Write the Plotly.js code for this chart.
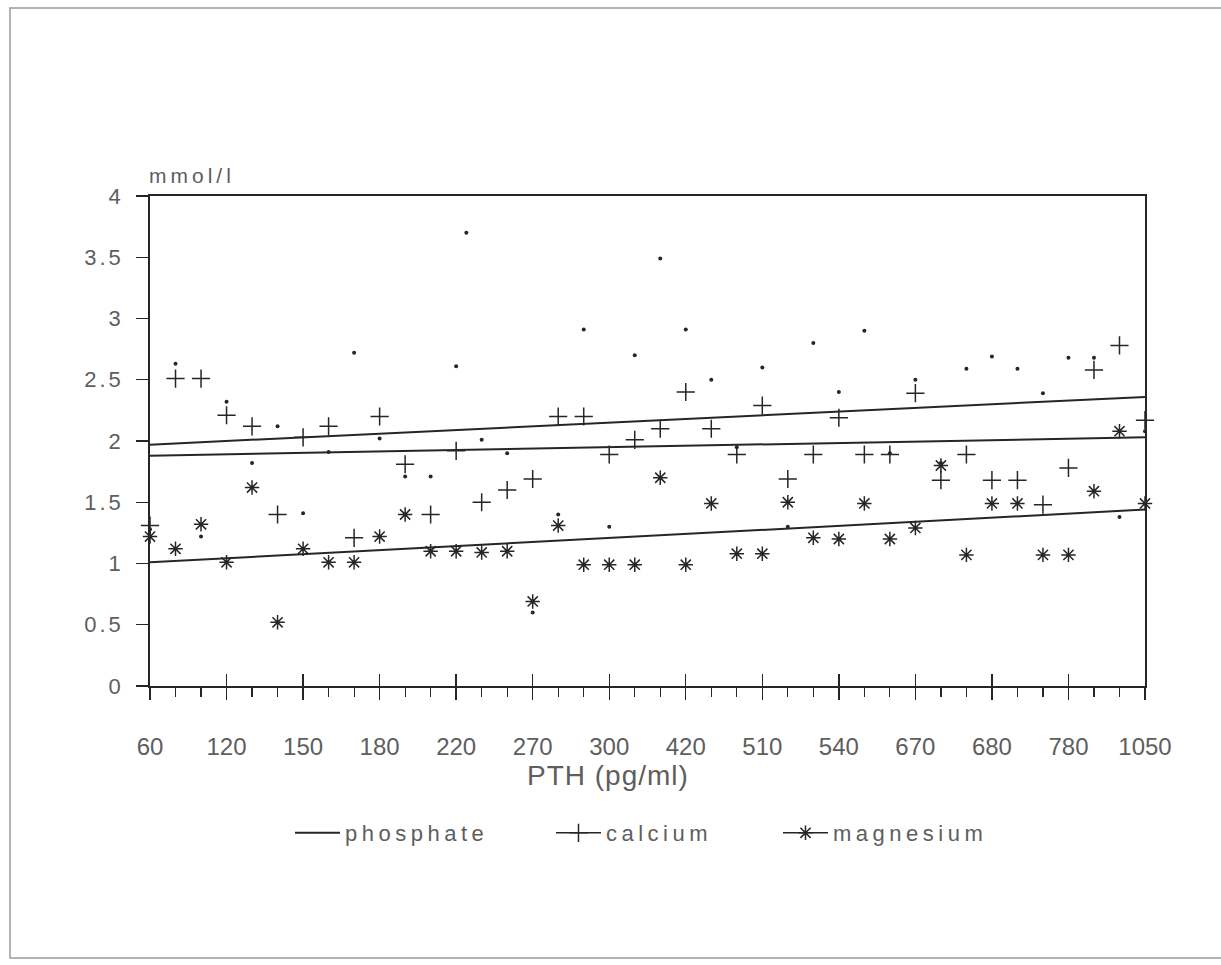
<!DOCTYPE html>
<html><head><meta charset="utf-8">
<script src="https://cdn.plot.ly/plotly-3.0.1.min.js"></script>
<style>
html,body{margin:0;padding:0;background:#fff}
#chart{width:1221px;height:965px}
.ytick text{letter-spacing:3px}
.legendtext{letter-spacing:4.5px}
</style></head><body><div id="chart"></div>
<script>
// PTH tick labels (every third patient position)
const pthLabels = ['60','120','150','180','220','270','300','420','510','540','670','680','780','1050'];
// serum values, mmol/l, one per patient (ordered by PTH)
const phosphate = [1.28,2.63,1.22,2.32,1.82,2.12,1.41,1.91,2.72,2.02,
                   1.71,1.71,2.61,2.01,1.90,0.60,1.40,2.91,1.30,2.70,
                   3.49,2.91,2.50,1.95,2.60,1.30,2.80,2.40,2.90,1.90,
                   2.50,1.82,2.59,2.69,2.59,2.39,2.68,2.68,1.38,2.08];
const phosphateExtraPos = [12.4];
const phosphateExtra = [3.70];
const calcium = [1.31,2.51,2.51,2.21,2.12,1.40,2.03,2.12,1.21,2.20,
                 1.81,1.40,1.92,1.50,1.60,1.69,2.20,2.20,1.89,2.01,
                 2.10,2.40,2.10,1.89,2.29,1.69,1.89,2.19,1.89,1.89,
                 2.39,1.68,1.89,1.68,1.68,1.48,1.78,2.58,2.78,2.17];
const magnesium = [1.22,1.12,1.32,1.01,1.62,0.52,1.12,1.01,1.01,1.22,
                   1.40,1.10,1.10,1.09,1.10,0.69,1.31,0.99,0.99,0.99,
                   1.70,0.99,1.49,1.08,1.08,1.50,1.21,1.20,1.49,1.20,
                   1.29,1.80,1.07,1.49,1.49,1.07,1.07,1.59,2.08,1.49];
// regression lines: value at first and last patient
const phosphateTrend = [1.97, 2.36];
const calciumTrend = [1.88, 2.03];
const magnesiumTrend = [1.01, 1.44];

const patient = calcium.map((_, i) => i);
const ends = [0, calcium.length - 1];
const labelPos = pthLabels.map((_, i) => i * 3);

const ink = '#262626';
const txt = '#5e5e5e';
const fam = '"Liberation Sans", Arial, sans-serif';

const traces = [
  {x: ends, y: phosphateTrend, mode: 'lines', name: 'phosphate', legendwidth: 201,
   line: {color: ink, width: 2}, hoverinfo: 'skip'},
  {x: [null], y: [null], mode: 'lines+markers', name: 'calcium', legendwidth: 167,
   line: {color: ink, width: 1.5},
   marker: {symbol: 'cross-thin', size: 13, color: ink, line: {color: ink, width: 1.5}}},
  {x: [null], y: [null], mode: 'lines+markers', name: 'magnesium', legendwidth: 160,
   line: {color: ink, width: 1.5},
   marker: {symbol: 'asterisk', size: 12, color: ink, line: {color: ink, width: 1.5}}},
  {x: ends, y: calciumTrend, mode: 'lines', showlegend: false,
   line: {color: ink, width: 2}, hoverinfo: 'skip'},
  {x: ends, y: magnesiumTrend, mode: 'lines', showlegend: false,
   line: {color: ink, width: 2}, hoverinfo: 'skip'},
  {x: patient, y: phosphate, mode: 'markers', showlegend: false, cliponaxis: false,
   marker: {symbol: 'circle', size: 4, color: ink}},
  {x: phosphateExtraPos, y: phosphateExtra, mode: 'markers', showlegend: false, cliponaxis: false,
   marker: {symbol: 'circle', size: 4, color: ink}},
  {x: patient, y: calcium, mode: 'markers', showlegend: false, cliponaxis: false,
   marker: {symbol: 'cross-thin', size: 13, color: ink, line: {color: ink, width: 1.5}}},
  {x: patient, y: magnesium, mode: 'markers', showlegend: false, cliponaxis: false,
   marker: {symbol: 'asterisk', size: 12, color: ink, line: {color: ink, width: 1.5}}},
  {x: [null], y: [null], xaxis: 'x2', yaxis: 'y', mode: 'markers', showlegend: false, hoverinfo: 'skip'}
];

const layout = {
  width: 1221, height: 965,
  margin: {l: 150, r: 76, t: 196, b: 279},
  paper_bgcolor: '#fff', plot_bgcolor: '#fff',
  font: {family: fam, color: txt},
  showlegend: true,
  legend: {orientation: 'h', x: 0.1407, xanchor: 'left', y: -0.30, yanchor: 'middle',
           itemwidth: 45, entrywidthmode: 'pixels',
           font: {size: 22, color: txt, family: fam}, bgcolor: 'rgba(0,0,0,0)'},
  xaxis: {
    range: [0, 39], showgrid: false, zeroline: false,
    showline: true, mirror: true, linecolor: ink, linewidth: 1.8,
    tickmode: 'array', tickvals: labelPos, ticktext: pthLabels,
    ticks: 'outside', ticklen: 12, tickwidth: 1.4, tickcolor: ink,
    ticklabelstandoff: 26,
    tickfont: {size: 24, color: txt, family: fam},
    minor: {dtick: 1, tick0: 0, ticks: 'outside', ticklen: 9, tickwidth: 1.2, tickcolor: ink, showgrid: false}
  },
  xaxis2: {
    overlaying: 'x', anchor: 'y', side: 'bottom', range: [0, 39], showgrid: false, zeroline: false,
    showline: false, tickmode: 'array', tickvals: labelPos, showticklabels: false,
    ticks: 'inside', ticklen: 12, tickwidth: 1.4, tickcolor: ink
  },
  yaxis: {
    range: [0, 4], dtick: 0.5, tick0: 0, showgrid: false, zeroline: false,
    showline: true, mirror: true, linecolor: ink, linewidth: 1.8,
    ticks: 'outside', ticklen: 12, tickwidth: 1.4, tickcolor: ink,
    ticklabelstandoff: 8,
    tickfont: {size: 22, color: txt, family: fam}
  },
  annotations: [
    {text: '<span style="letter-spacing:4px">mmol/l</span>', xref: 'paper', yref: 'paper',
     x: -0.003, y: 1.041, xanchor: 'left', yanchor: 'middle', showarrow: false,
     font: {size: 21, color: txt, family: fam}},
    {text: '<span style="letter-spacing:1px">PTH (pg/ml)</span>', xref: 'paper', yref: 'paper',
     x: 0.46, y: -0.183, xanchor: 'center', yanchor: 'middle', showarrow: false,
     font: {size: 28, color: txt, family: fam}}
  ],
  shapes: [
    {type: 'rect', xref: 'paper', yref: 'paper', x0: -0.1407, x1: 1.12, y0: -0.555, y1: 1.3837,
     line: {color: '#9a9a9a', width: 1.5}, fillcolor: 'rgba(0,0,0,0)', layer: 'below'}
  ]
};

Plotly.newPlot('chart', traces, layout, {displayModeBar: false, staticPlot: true});
</script></body></html>
